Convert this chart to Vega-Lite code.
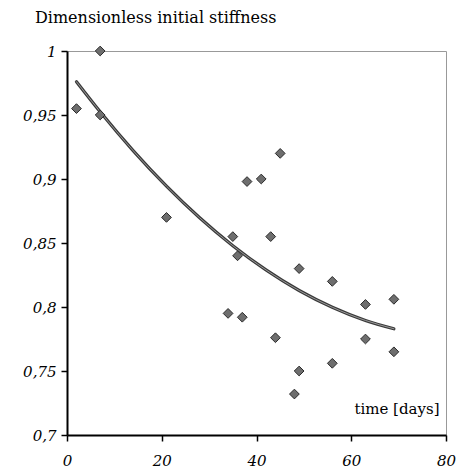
{
  "$schema": "https://vega.github.io/schema/vega-lite/v6.json",
  "width": 379,
  "height": 384,
  "autosize": "none",
  "padding": {"left": 67, "top": 51, "right": 11, "bottom": 39},
  "background": "white",
  "config": {
    "view": {"stroke": "#999999", "strokeWidth": 1},
    "font": "DejaVu Serif"
  },
  "title": {
    "text": "Dimensionless initial stiffness",
    "anchor": "start",
    "frame": "group",
    "dx": -32,
    "offset": 18,
    "font": "DejaVu Serif",
    "fontSize": 16,
    "fontWeight": "normal",
    "color": "black"
  },
  "datasets": {
    "pts": [
      {"t": 2, "s": 0.955},
      {"t": 7, "s": 1.0},
      {"t": 7, "s": 0.95},
      {"t": 21, "s": 0.87},
      {"t": 34, "s": 0.795},
      {"t": 35, "s": 0.855},
      {"t": 36, "s": 0.84},
      {"t": 37, "s": 0.792},
      {"t": 38, "s": 0.898},
      {"t": 41, "s": 0.9},
      {"t": 43, "s": 0.855},
      {"t": 44, "s": 0.776},
      {"t": 45, "s": 0.92},
      {"t": 48, "s": 0.732},
      {"t": 49, "s": 0.83},
      {"t": 49, "s": 0.75},
      {"t": 56, "s": 0.82},
      {"t": 56, "s": 0.756},
      {"t": 63, "s": 0.802},
      {"t": 63, "s": 0.775},
      {"t": 69, "s": 0.806},
      {"t": 69, "s": 0.765}
    ],
    "fit": [
      {"t": 2, "s": 0.976},
      {"t": 7, "s": 0.9525},
      {"t": 14, "s": 0.922},
      {"t": 21, "s": 0.8944},
      {"t": 28, "s": 0.8697},
      {"t": 35, "s": 0.8479},
      {"t": 42, "s": 0.829},
      {"t": 49, "s": 0.8129},
      {"t": 56, "s": 0.7998},
      {"t": 63, "s": 0.7895},
      {"t": 69, "s": 0.783}
    ]
  },
  "encoding": {
    "x": {
      "field": "t",
      "type": "quantitative",
      "scale": {"domain": [0, 80], "nice": false, "zero": false},
      "axis": {
        "values": [0, 20, 40, 60, 80],
        "title": "time [days]",
        "titleFont": "DejaVu Serif",
        "titleFontSize": 15,
        "titleFontWeight": "normal",
        "titleColor": "black",
        "titleAnchor": "end",
        "titleAlign": "right",
        "titleBaseline": "alphabetic",
        "titleX": 372,
        "titleY": -22,
        "grid": false,
        "domainColor": "black",
        "domainWidth": 2,
        "tickColor": "black",
        "tickWidth": 1.5,
        "tickSize": 6,
        "labelFont": "DejaVu Serif",
        "labelFontStyle": "italic",
        "labelFontSize": 15,
        "labelColor": "black",
        "labelPadding": 12,
        "labelFlush": false
      }
    },
    "y": {
      "field": "s",
      "type": "quantitative",
      "scale": {"domain": [0.7, 1.0], "nice": false, "zero": false},
      "axis": {
        "values": [0.7, 0.75, 0.8, 0.85, 0.9, 0.95, 1.0],
        "labelExpr": "replace(format(datum.value, '.2~f'), '.', ',')",
        "title": null,
        "grid": false,
        "domainColor": "black",
        "domainWidth": 2,
        "tickColor": "black",
        "tickWidth": 1.5,
        "tickSize": 6,
        "labelFont": "DejaVu Serif",
        "labelFontStyle": "italic",
        "labelFontSize": 15,
        "labelColor": "black",
        "labelPadding": 5,
        "labelFlush": false
      }
    }
  },
  "layer": [
    {
      "data": {"name": "fit"},
      "mark": {"type": "line", "interpolate": "monotone", "color": "#3a3a3a", "strokeWidth": 3.2, "strokeCap": "round"}
    },
    {
      "data": {"name": "fit"},
      "mark": {"type": "line", "interpolate": "monotone", "color": "#9a9a9a", "strokeWidth": 1, "strokeCap": "round"}
    },
    {
      "data": {"name": "pts"},
      "mark": {"type": "point", "shape": "diamond", "filled": true, "fill": "#6e6e6e", "stroke": "#2a2a2a", "strokeWidth": 1, "size": 95, "opacity": 1}
    }
  ]
}
